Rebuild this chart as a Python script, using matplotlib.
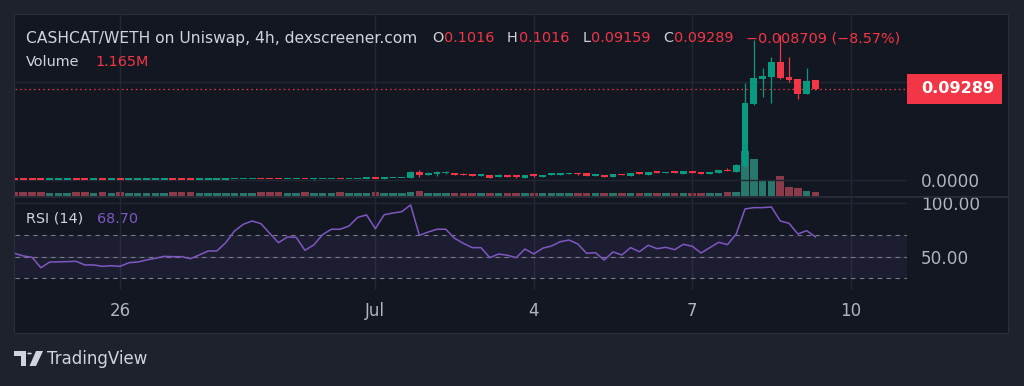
import numpy as np
import matplotlib.pyplot as plt
from matplotlib.patches import Rectangle, Circle, Polygon
from matplotlib.lines import Line2D

W, H = 1024, 386

# 4h candles, CASHCAT/WETH (price in WETH)
opens = [0.00030, 0.00026, 0.00023, 0.00021, 0.00019, 0.00022, 0.00024, 0.00026, 0.00023, 0.00021,
         0.00024, 0.00022, 0.00025, 0.00023, 0.00026, 0.00029, 0.00032, 0.00035, 0.00038, 0.00035,
         0.00033, 0.00031, 0.00035, 0.00040, 0.00044, 0.00055, 0.00070, 0.00090, 0.00100, 0.00095,
         0.00090, 0.00060, 0.00085, 0.00090, 0.00070, 0.00080, 0.00100, 0.00110, 0.00105, 0.00115,
         0.00130, 0.00140, 0.00125, 0.00180, 0.00190, 0.00190, 0.00820, 0.00550, 0.00660, 0.00670,
         0.00710, 0.00610, 0.00500, 0.00440, 0.00500, 0.00340, 0.00410, 0.00410, 0.00230, 0.00510,
         0.00340, 0.00540, 0.00560, 0.00610, 0.00710, 0.00710, 0.00440, 0.00510, 0.00340, 0.00610,
         0.00440, 0.00710, 0.00510, 0.00820, 0.00710, 0.00820, 0.00640, 0.00820, 0.00820, 0.00610,
         0.00710, 0.01020, 0.00820, 0.01430, 0.07760, 0.10310, 0.10510, 0.12040, 0.10510, 0.10310,
         0.08780, 0.10160]
highs = [0.00034, 0.00029, 0.00025, 0.00023, 0.00023, 0.00025, 0.00027, 0.00027, 0.00024, 0.00025,
         0.00025, 0.00026, 0.00026, 0.00027, 0.00030, 0.00033, 0.00036, 0.00039, 0.00039, 0.00036,
         0.00034, 0.00036, 0.00041, 0.00045, 0.00056, 0.00072, 0.00140, 0.00105, 0.00104, 0.00098,
         0.00092, 0.00088, 0.00093, 0.00092, 0.00110, 0.00102, 0.00113, 0.00112, 0.00118, 0.00133,
         0.00143, 0.00142, 0.00190, 0.00220, 0.00240, 0.00900, 0.01020, 0.00820, 0.00890, 0.00890,
         0.00730, 0.00710, 0.00510, 0.00510, 0.00510, 0.00610, 0.00420, 0.00420, 0.00560, 0.00520,
         0.00560, 0.00700, 0.00760, 0.00730, 0.00720, 0.00720, 0.00560, 0.00520, 0.00620, 0.00620,
         0.00720, 0.00720, 0.00790, 0.00830, 0.00790, 0.00830, 0.00890, 0.00830, 0.00830, 0.00830,
         0.01030, 0.01220, 0.01630, 0.09900, 0.14290, 0.11430, 0.12550, 0.14800, 0.12550, 0.10310,
         0.11430, 0.10160]
lows = [0.00025, 0.00022, 0.00020, 0.00018, 0.00018, 0.00021, 0.00023, 0.00022, 0.00020, 0.00020,
        0.00021, 0.00021, 0.00022, 0.00022, 0.00025, 0.00028, 0.00031, 0.00034, 0.00034, 0.00032,
        0.00030, 0.00030, 0.00034, 0.00039, 0.00043, 0.00054, 0.00068, 0.00088, 0.00093, 0.00088,
        0.00055, 0.00058, 0.00083, 0.00068, 0.00030, 0.00078, 0.00098, 0.00102, 0.00103, 0.00113,
        0.00128, 0.00122, 0.00123, 0.00178, 0.00188, 0.00170, 0.00340, 0.00530, 0.00410, 0.00650,
        0.00500, 0.00490, 0.00430, 0.00430, 0.00220, 0.00330, 0.00330, 0.00230, 0.00220, 0.00340,
        0.00330, 0.00530, 0.00550, 0.00600, 0.00510, 0.00430, 0.00430, 0.00330, 0.00330, 0.00500,
        0.00430, 0.00630, 0.00500, 0.00740, 0.00700, 0.00740, 0.00630, 0.00740, 0.00600, 0.00600,
        0.00700, 0.00900, 0.00770, 0.01220, 0.07650, 0.08470, 0.07860, 0.10310, 0.10000, 0.08270,
        0.08780, 0.09159]
closes = [0.00026, 0.00023, 0.00021, 0.00019, 0.00022, 0.00024, 0.00026, 0.00023, 0.00021, 0.00024,
          0.00022, 0.00025, 0.00023, 0.00026, 0.00029, 0.00032, 0.00035, 0.00038, 0.00035, 0.00033,
          0.00031, 0.00035, 0.00040, 0.00044, 0.00055, 0.00070, 0.00090, 0.00100, 0.00095, 0.00090,
          0.00060, 0.00085, 0.00090, 0.00070, 0.00080, 0.00100, 0.00110, 0.00105, 0.00115, 0.00130,
          0.00140, 0.00125, 0.00180, 0.00190, 0.00200, 0.00820, 0.00470, 0.00610, 0.00680, 0.00700,
          0.00520, 0.00510, 0.00440, 0.00500, 0.00230, 0.00440, 0.00340, 0.00340, 0.00540, 0.00440,
          0.00540, 0.00680, 0.00740, 0.00710, 0.00610, 0.00440, 0.00540, 0.00340, 0.00610, 0.00510,
          0.00710, 0.00640, 0.00780, 0.00750, 0.00780, 0.00750, 0.00880, 0.00750, 0.00610, 0.00820,
          0.01020, 0.00920, 0.01530, 0.07860, 0.10410, 0.10610, 0.12040, 0.10410, 0.10200, 0.08780,
          0.10100, 0.09289]
# volume in millions
volumes = [1.2, 1.2, 1.2, 1.2, 1.1, 1.1, 1.1, 1.2, 1.2, 1.1,
           1.2, 1.1, 1.2, 1.1, 1.1, 1.1, 1.1, 1.1, 1.2, 1.2,
           1.2, 1.1, 1.1, 1.1, 1.1, 1.1, 1.1, 1.1, 1.2, 1.2,
           1.2, 1.1, 1.1, 1.2, 1.1, 1.1, 1.1, 1.2, 1.1, 1.1,
           1.1, 1.2, 1.0, 1.0, 1.0, 1.4, 1.7, 1.0, 1.0, 1.0,
           1.0, 1.0, 1.0, 1.0, 1.0, 1.0, 1.0, 1.0, 1.0, 1.0,
           1.0, 1.0, 1.0, 1.0, 1.0, 1.0, 1.0, 1.0, 1.0, 1.0,
           1.0, 1.0, 1.0, 1.0, 1.0, 1.0, 1.0, 1.0, 1.0, 1.0,
           1.0, 1.2, 1.2, 14.8, 12.1, 4.8, 5.1, 6.7, 3.0, 2.6,
           1.7, 1.165]
rsi = [53.4, 51.0, 49.7, 40.0, 45.3, 45.5, 45.7, 46.0, 42.6, 42.6,
       41.3, 41.9, 41.3, 44.7, 45.3, 47.2, 48.8, 50.6, 50.3, 50.3,
       48.4, 51.9, 55.6, 55.6, 63.3, 74.2, 80.4, 83.5, 81.0, 72.0,
       63.3, 68.6, 68.3, 56.2, 61.2, 70.8, 75.8, 75.8, 78.8, 86.9,
       89.1, 76.3, 89.3, 90.9, 92.1, 98.4, 70.2, 73.2, 75.8, 75.8,
       67.4, 62.7, 58.7, 58.7, 49.4, 52.8, 51.6, 49.4, 57.4, 52.8,
       58.1, 60.2, 64.2, 65.8, 62.1, 53.4, 54.0, 47.2, 54.7, 51.9,
       58.7, 54.9, 60.9, 57.7, 59.0, 56.8, 61.8, 60.0, 53.7, 58.7,
       63.7, 61.5, 71.4, 94.7, 95.9, 95.9, 96.5, 83.5, 81.3, 71.4,
       74.5, 68.7]
tick_pos = [12, 41, 59, 77, 95]
tick_labels = ['26', 'Jul', '4', '7', '10']

UP = '#089981'
DOWN = '#f23645'
TXT = '#d1d4dc'
AXTXT = '#b2b5be'
GRID = '#232733'
PURPLE = '#7e57c2'

plt.rcParams['font.family'] = ['DejaVu Sans']


def px(x, y):
    # figure pixel (from top-left) -> figure fraction
    return x / W, 1 - y / H


o = np.array(opens)
h = np.array(highs)
l = np.array(lows)
c = np.array(closes)
x = np.arange(len(c))
colors = [UP if cc >= oo else DOWN for oo, cc in zip(o, c)]
vol_colors = ['#28776d' if cc >= oo else '#8a3a49' for oo, cc in zip(o, c)]

fig = plt.figure(figsize=(W / 100, H / 100), dpi=100)
fig.patch.set_facecolor('#1e222d')
fig.patches.append(Rectangle(px(14, 333), 994 / W, 319 / H, transform=fig.transFigure,
                             facecolor='#131722', edgecolor='#2a2e39', lw=0.8, zorder=-5))

ax = fig.add_axes([15 / W, 1 - 196 / H, 892 / W, 182 / H])
axv = ax.twinx()
ax_rsi = fig.add_axes([15 / W, 1 - 290 / H, 892 / W, 93 / H], sharex=ax)

# volume under candles
axv.set_zorder(ax.get_zorder() - 1)
ax.patch.set_visible(False)
axv.patch.set_visible(False)
axv.bar(x, volumes, width=0.86, color=vol_colors, linewidth=0)
axv.set_ylim(0, 59.7)
axv.set_yticks([])
for s in axv.spines.values():
    s.set_visible(False)

# candles
ax.vlines(x, l, h, colors=colors, linewidth=0.9, zorder=2)
ax.bar(x, np.maximum(np.abs(c - o), 0.0014), bottom=np.minimum(o, c), width=0.78,
       color=colors, linewidth=0, zorder=3)
ax.axhline(c[-1], color=DOWN, linestyle=(0, (1.2, 2.5)), linewidth=0.9, zorder=1)

ax.set_xlim(0.06, 101.4)
ax.set_ylim(-0.0163, 0.1694)
ax.set_xticks(tick_pos)
ax.yaxis.tick_right()
ax.set_yticks([0.0, 0.1])
ax.set_yticklabels(['0.0000', ''])
ax.tick_params(axis='x', length=0, labelbottom=False)
ax.tick_params(axis='y', length=0, pad=10, labelcolor=AXTXT, labelsize=12.2)
ax.grid(True, color=GRID, linewidth=1)
ax.set_axisbelow(True)
for s in ax.spines.values():
    s.set_visible(False)

# RSI pane
ax_rsi.set_facecolor('none')
ax_rsi.axhspan(30, 70, color=PURPLE, alpha=0.1, linewidth=0)
for lvl in (70, 50, 30):
    ax_rsi.axhline(lvl, color='#787b86', linestyle=(0, (4, 4)), linewidth=0.8)
ax_rsi.plot(x, rsi, color=PURPLE, linewidth=1.1)
ax_rsi.set_ylim(19.3, 105.8)
ax_rsi.yaxis.tick_right()
ax_rsi.set_yticks([50, 100])
ax_rsi.set_yticklabels(['50.00', '100.00'])
ax_rsi.set_xticks(tick_pos)
ax_rsi.set_xticklabels(tick_labels)
ax_rsi.tick_params(axis='x', length=0, pad=9, labelcolor=AXTXT, labelsize=12)
ax_rsi.tick_params(axis='y', length=0, pad=10, labelcolor=AXTXT, labelsize=12.2)
ax_rsi.grid(True, color=GRID, linewidth=1)
ax_rsi.set_axisbelow(True)
for s in ax_rsi.spines.values():
    s.set_visible(False)

# pane separator
fig.add_artist(Line2D([14 / W, 1008 / W], [1 - 196.5 / H] * 2, color='#2a2e39', linewidth=1.2))

# last price label on price scale
yc = ax.transData.transform((0, c[-1]))[1] / fig.bbox.height
fig.patches.append(Rectangle((907 / W, yc - 15 / H), 95 / W, 30 / H, transform=fig.transFigure,
                             facecolor=DOWN, edgecolor='none', zorder=2))
fig.text(921 / W, yc, '0.09289', color='white', fontsize=11.6, fontweight='bold',
         va='center', ha='left', zorder=3)

# legend texts
fs = 10.4
fig.text(*px(26, 38), 'CASHCAT/WETH on Uniswap, 4h, dexscreener.com', color=TXT, fontsize=11.2, va='center')
for xp, label, col in [(432, 'O', TXT), (444, '0.1016', DOWN), (507, 'H', TXT), (519, '0.1016', DOWN),
                       (583, 'L', TXT), (591, '0.09159', DOWN), (663, 'C', TXT), (674, '0.09289', DOWN),
                       (746, '\u22120.008709 (\u22128.57%)', DOWN)]:
    fig.text(*px(xp, 38), label, color=col, fontsize=fs, va='center')
fig.text(*px(26, 62), 'Volume', color=TXT, fontsize=fs, va='center')
fig.text(*px(95, 62), '1.165M', color=DOWN, fontsize=fs, va='center')
fig.text(*px(26, 219), 'RSI (14)', color=TXT, fontsize=fs, va='center')
fig.text(*px(97, 219), '68.70', color=PURPLE, fontsize=fs, va='center')

# TradingView mark
logo = '#d1d4dc'
fig.patches.append(Polygon([px(14, 351), px(26, 351), px(26, 366), px(20.5, 366), px(20.5, 356), px(14, 356)],
                           closed=True, transform=fig.transFigure, facecolor=logo, edgecolor='none'))
fig.patches.append(Circle(px(29.5, 353.5), 2.4 / W, transform=fig.transFigure, facecolor=logo,
                          edgecolor='none'))
fig.patches.append(Polygon([px(36, 351), px(43, 351), px(36, 366), px(29.5, 366)],
                           closed=True, transform=fig.transFigure, facecolor=logo, edgecolor='none'))
fig.text(*px(47, 359), 'TradingView', color=logo, fontsize=12, va='center')

fig.savefig('out.png', dpi=100, facecolor=fig.get_facecolor())
